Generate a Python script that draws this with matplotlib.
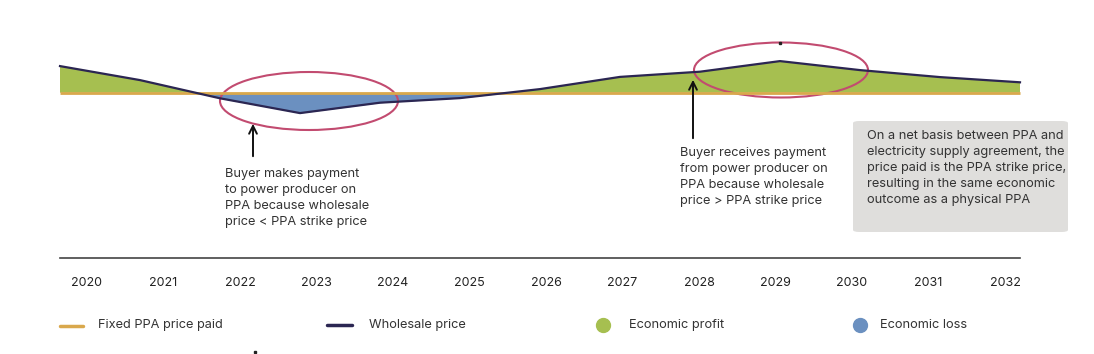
import matplotlib.pyplot as plt
import numpy as np
from matplotlib.patches import Ellipse, FancyBboxPatch
from matplotlib.lines import Line2D

plt.rcParams['font.family'] = ['Inter', 'DejaVu Sans']

# data
years = np.arange(2020, 2033)
wholesale = np.array([63.3, 56.3, 47.2, 39.8, 45.0, 47.3, 51.8, 57.9, 60.5, 65.8, 61.3, 57.8, 55.2])
ppa_price = np.full(len(years), 50.0)
tick_labels = [str(y) for y in years]

legend_labels = ['Fixed PPA price paid', 'Wholesale price', 'Economic profit', 'Economic loss']
note_loss = "Buyer makes payment\nto power producer on\nPPA because wholesale\nprice < PPA strike price"
note_profit = "Buyer receives payment\nfrom power producer on\nPPA because wholesale\nprice > PPA strike price"
note_box = ("On a net basis between PPA and\nelectricity supply agreement, the\n"
            "price paid is the PPA strike price,\nresulting in the same economic\n"
            "outcome as a physical PPA")

green = '#a6bf50'
blue = '#6b90c0'
navy = '#2b2652'
orange = '#d9a84c'
crimson = '#c24b70'
txt = '#333333'

W, H = 1094, 354
fig = plt.figure(figsize=(W / 100, H / 100), dpi=100)
ax = fig.add_axes([0, 0, 1, 1])
ax.axis('off')
# 80 px per year, 2 px per price unit, PPA line at y=92.7px from top
ax.set_xlim(2020 - 60 / 80, 2020 + (W - 60) / 80)
ax.set_ylim(50 - (H - 92.7) / 2, 50 + 92.7 / 2)

def px(x, y):
    # figure pixel (from top-left) -> figure fraction
    return x / W, 1 - y / H

ax.fill_between(years, ppa_price, wholesale, where=wholesale >= ppa_price,
                interpolate=True, color=green, lw=0)
ax.fill_between(years, ppa_price, wholesale, where=wholesale <= ppa_price,
                interpolate=True, color=blue, lw=0)
ax.plot(years, ppa_price, color=orange, lw=2, solid_capstyle='butt')
ax.plot(years, wholesale, color=navy, lw=1.6)

# ellipses highlighting the loss / profit areas
ax.add_patch(Ellipse((2020 + (309 - 60) / 80, 50 - (101 - 92.7) / 2), 178 / 80, 58 / 2,
                     fill=False, ec=crimson, lw=1.5))
ax.add_patch(Ellipse((2020 + (781 - 60) / 80, 50 - (70 - 92.7) / 2), 174 / 80, 55 / 2,
                     fill=False, ec=crimson, lw=1.5))

# stray marks in the source image
fig.lines.append(Line2D([780 / W], [1 - 43 / H], transform=fig.transFigure, marker='s',
                        ms=2, color='#222222', lw=0))
fig.lines.append(Line2D([255 / W], [1 - 352 / H], transform=fig.transFigure, marker='s',
                        ms=1.5, color='#222222', lw=0))

# arrows
ax.annotate('', xy=px(253, 121), xytext=px(253, 159), xycoords='figure fraction',
            arrowprops=dict(arrowstyle='->', color='#111111', lw=1.4, mutation_scale=14))
ax.annotate('', xy=px(693, 77), xytext=px(693, 141), xycoords='figure fraction',
            arrowprops=dict(arrowstyle='->', color='#111111', lw=1.4, mutation_scale=14))

fig.text(*px(225, 168), note_loss, fontsize=9.2, color=txt, va='top', linespacing=1.45)
fig.text(*px(680, 147), note_profit, fontsize=9.2, color=txt, va='top', linespacing=1.45)

box = FancyBboxPatch(px(853, 232), (1068 - 853) / W, (232 - 121) / H,
                     boxstyle='round,pad=0,rounding_size=0.006', transform=fig.transFigure,
                     fc='#dfdedc', ec='none')
fig.patches.append(box)
fig.text(*px(867, 130), note_box, fontsize=9.2, color=txt, va='top', linespacing=1.45)

# x axis
axis_y = 50 - (258 - 92.7) / 2
ax.plot([years[0], years[-1]], [axis_y, axis_y], color='#444444', lw=1.2)
for i, lab in enumerate(tick_labels):
    fig.text(*px(87 + 76.5 * i, 283), lab, fontsize=9, color='#222222', ha='center', va='center')

# legend
fig.lines.append(Line2D([60 / W, 83 / W], [1 - 326 / H] * 2, transform=fig.transFigure,
                        color=orange, lw=2.5, solid_capstyle='round'))
fig.lines.append(Line2D([327 / W, 352 / W], [1 - 325 / H] * 2, transform=fig.transFigure,
                        color=navy, lw=2.5, solid_capstyle='round'))
fig.lines.append(Line2D([603 / W], [1 - 325 / H], transform=fig.transFigure, marker='o',
                        ms=10, color=green, lw=0))
fig.lines.append(Line2D([860 / W], [1 - 325 / H], transform=fig.transFigure, marker='o',
                        ms=10, color=blue, lw=0))
for x, lab in zip([98, 369, 629, 880], legend_labels):
    fig.text(*px(x, 325), lab, fontsize=9.2, color=txt, va='center')

fig.savefig('out.png', dpi=100)
